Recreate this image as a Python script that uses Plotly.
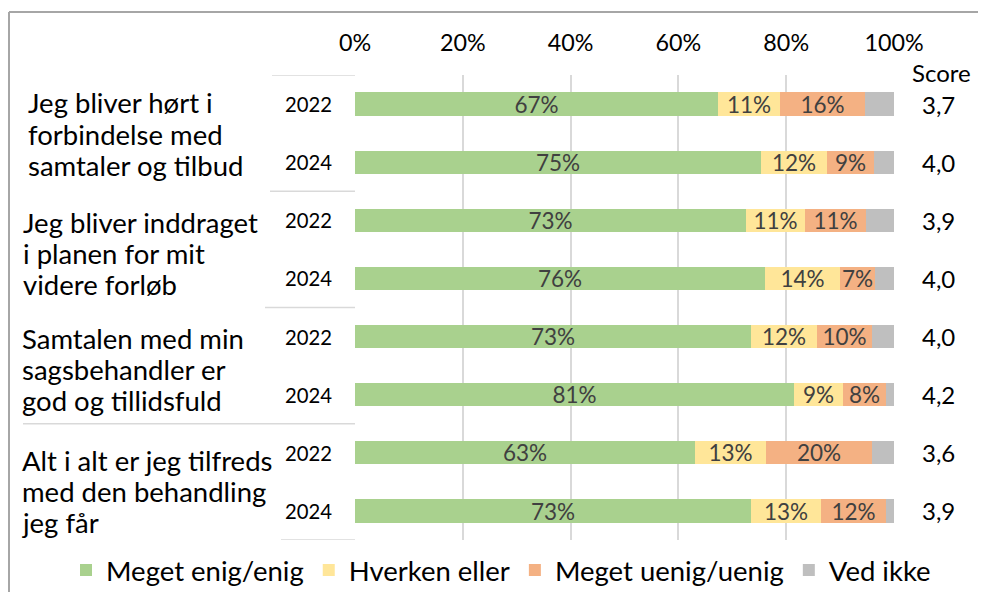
import plotly.graph_objects as go

# ---- data ----
groups = [
    ["Jeg bliver hørt i", "forbindelse med", "samtaler og tilbud"],
    ["Jeg bliver inddraget", "i planen for mit", "videre forløb"],
    ["Samtalen med min", "sagsbehandler er", "god og tillidsfuld"],
    ["Alt i alt er jeg tilfreds", "med den behandling", "jeg får"],
]
years = ["2022", "2024", "2022", "2024", "2022", "2024", "2022", "2024"]
enig = [67.4, 75.3, 72.6, 76.1, 73.4, 81.4, 63.1, 73.4]
hverken = [11.4, 12.3, 10.8, 13.8, 12.3, 9.1, 13.2, 13.1]
uenig = [15.9, 8.6, 11.4, 6.6, 10.2, 8.0, 19.7, 12.0]
vedikke = [5.3, 3.8, 5.2, 3.5, 4.1, 1.5, 4.0, 1.5]
scores = ["3,7", "4,0", "3,9", "4,0", "4,0", "4,2", "3,6", "3,9"]
series_names = ["Meget enig/enig", "Hverken eller", "Meget uenig/uenig", "Ved ikke"]
tick_vals = [0, 20, 40, 60, 80, 100]
tick_text = ["0%", "20%", "40%", "60%", "80%", "100%"]

# ---- style / layout geometry (page pixels) ----
FONT = "Lato"
colors = ["#A9D18E", "#FFE699", "#F4B183", "#BFBFBF"]
OFF = 8                      # browser body margin
W, H = 986 - OFF, 592 - OFF
PL, PR, PT, PB = 355, 894, 75, 540   # plot area in page pixels
L, T = PL - OFF, PT - OFF
pw, ph = PR - PL, PB - PT
R, B = W - L - pw, H - T - ph

def px_x(px):
    return (px - PL) / pw

def px_y(py):
    return 1 - (py - PT) / ph

idx = list(range(len(years)))
fig = go.Figure()
for name, vals, col in zip(series_names, [enig, hverken, uenig, vedikke], colors):
    show_text = name != "Ved ikke"
    fig.add_trace(go.Bar(
        y=idx, x=vals, orientation="h", name=name,
        marker=dict(color=col, line=dict(width=0)),
        width=0.4,
        texttemplate="%{x:.0f}%" if show_text else None,
        textposition="inside" if show_text else "none",
        insidetextanchor="middle",
        constraintext="none",
        textfont=dict(family=FONT, size=22.5, color="#404040"),
        hoverinfo="skip",
    ))

annotations = []
for i, yr in enumerate(years):
    annotations.append(dict(x=px_x(308), xref="paper", y=i, yref="y", text=yr,
                            showarrow=False, xanchor="center", yanchor="middle",
                            font=dict(family=FONT, size=20.3, color="#000")))
    annotations.append(dict(x=px_x(938), xref="paper", y=i, yref="y", text=scores[i],
                            showarrow=False, xanchor="center", yanchor="middle",
                            font=dict(family=FONT, size=24, color="#000")))
annotations.append(dict(x=px_x(941), xref="paper", y=px_y(73), yref="paper", text="Score",
                        showarrow=False, xanchor="center", yanchor="middle",
                        font=dict(family=FONT, size=24, color="#000")))
g_x = [26, 21, 20, 20]
g_center = [134, 253, 369, 491]
LINE = 31
for gi, lines in enumerate(groups):
    for k, line in enumerate(lines):
        annotations.append(dict(x=px_x(g_x[gi]), xref="paper",
                                y=px_y(g_center[gi] + (k - 1) * LINE), yref="paper",
                                text=line, showarrow=False, xanchor="left", yanchor="middle",
                                font=dict(family=FONT, size=27.5, color="#000")))

shapes = []
sep_x0 = [272, 270, 265, 23, 281]
for k, x0 in enumerate(sep_x0):
    shapes.append(dict(type="line", xref="paper", yref="y", x0=px_x(x0), x1=0,
                       y0=k * 2 - 0.5, y1=k * 2 - 0.5, line=dict(color="#D9D9D9", width=1.5)))
# outer frame (left + top edges)
shapes.append(dict(type="line", xref="paper", yref="paper", x0=px_x(9), x1=px_x(9),
                   y0=px_y(12), y1=px_y(600), line=dict(color="#A6A6A6", width=2)))
shapes.append(dict(type="line", xref="paper", yref="paper", x0=px_x(9), x1=px_x(1000),
                   y0=px_y(12), y1=px_y(12), line=dict(color="#A6A6A6", width=2)))

fig.update_layout(
    width=W, height=H, barmode="stack", bargap=0,
    margin=dict(l=L, r=R, t=T, b=B, autoexpand=False),
    paper_bgcolor="white", plot_bgcolor="white",
    font=dict(family=FONT, color="#000"),
    xaxis=dict(side="top", range=[0, 100], tickvals=tick_vals, ticktext=tick_text,
               showgrid=True, gridcolor="#D9D9D9", gridwidth=1.5, zeroline=False,
               showline=False, ticks="", ticklabelstandoff=18,
               tickfont=dict(family=FONT, size=23.3, color="#000"), fixedrange=True),
    yaxis=dict(range=[7.5, -0.5], showticklabels=False, showgrid=False, zeroline=False,
               showline=False, ticks="", fixedrange=True),
    legend=dict(orientation="h", x=px_x(66), xanchor="left", y=px_y(570), yanchor="middle",
                font=dict(family=FONT, size=27.5, color="#000"), traceorder="normal",
                itemwidth=30, bgcolor="rgba(0,0,0,0)"),
    annotations=annotations, shapes=shapes, showlegend=True,
)
fig.write_html("out.html")
